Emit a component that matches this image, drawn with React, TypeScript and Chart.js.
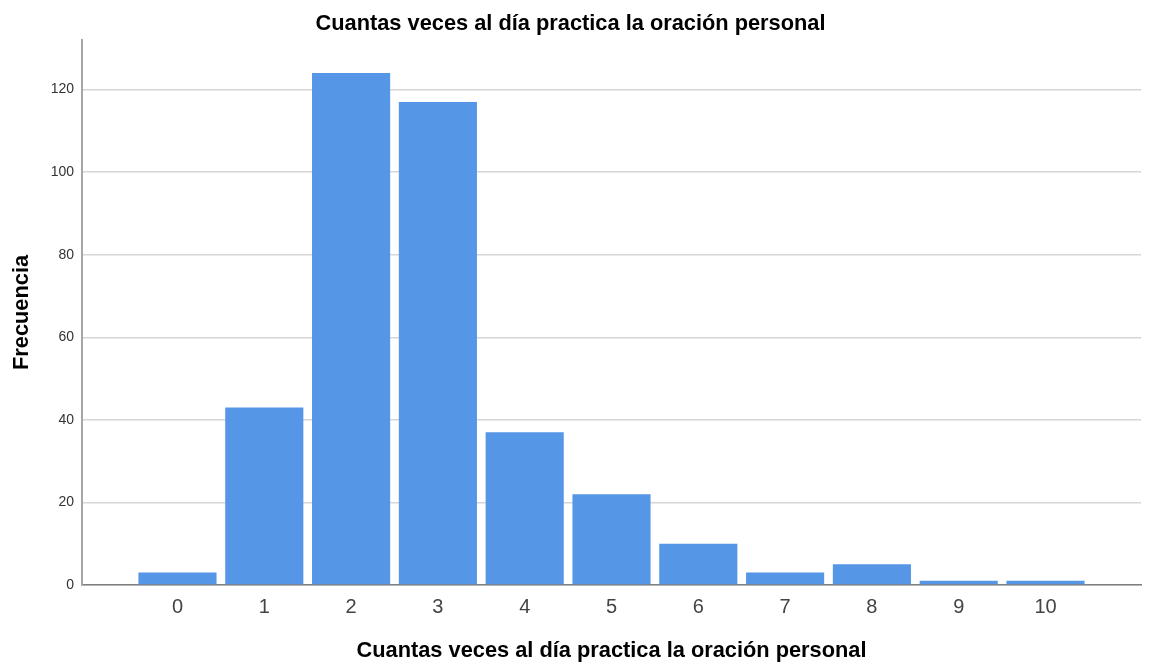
import React, { useEffect, useRef } from "react";
import { Chart, registerables } from "chart.js";

Chart.register(...registerables);

const chartTitle = "Cuantas veces al día practica la oración personal";
const xAxisTitle = "Cuantas veces al día practica la oración personal";
const yAxisTitle = "Frecuencia";
const categories = [0, 1, 2, 3, 4, 5, 6, 7, 8, 9, 10];
const frequencies = [3, 43, 124, 117, 37, 22, 10, 3, 5, 1, 1];
const yTickValues = [0, 20, 40, 60, 80, 100, 120];

const FONT = '"Liberation Sans", Arial, sans-serif';

export default function App() {
  const ref = useRef<HTMLCanvasElement | null>(null);

  useEffect(() => {
    if (!ref.current) return;
    const chart = new Chart(ref.current, {
      type: "bar",
      data: {
        datasets: [
          {
            label: yAxisTitle,
            data: categories.map((c, i) => ({ x: c, y: frequencies[i] })),
            backgroundColor: "#5596E6",
            borderWidth: 0,
            barPercentage: 0.9,
            categoryPercentage: 1,
          },
        ],
      },
      options: {
        responsive: false,
        animation: false,
        layout: { padding: { left: 0, right: 8, top: 0, bottom: 0 } },
        plugins: {
          legend: { display: false },
          tooltip: { enabled: false },
          title: {
            display: true,
            text: chartTitle,
            color: "#000",
            font: { family: FONT, size: 21.8, weight: "bold" },
            padding: { top: 10.5, bottom: 3.3 },
          },
        },
        scales: {
          x: {
            type: "linear",
            offset: false,
            min: -1.1,
            max: 11.1,
            afterBuildTicks: (scale: any) => {
              scale.ticks = categories.map((v) => ({ value: v }));
            },
            afterFit: (scale: any) => {
              scale.height = 81;
            },
            grid: { display: false, drawTicks: false, offset: false },
            border: { display: true, color: "#7f7f7f", width: 1.5 },
            ticks: {
              autoSkip: false,
              maxRotation: 0,
              padding: 10,
              color: "#444",
              font: { family: FONT, size: 20 },
              callback: (v: any) => String(v),
            },
            title: {
              display: true,
              text: xAxisTitle,
              color: "#000",
              font: { family: FONT, size: 21.8, weight: "bold" },
              padding: { top: 0, bottom: 2 },
            },
          },
          y: {
            type: "linear",
            min: 0,
            max: 132,
            afterBuildTicks: (scale: any) => {
              scale.ticks = yTickValues.map((v) => ({ value: v }));
            },
            afterFit: (scale: any) => {
              scale.width = 82;
            },
            grid: { color: "#d6d6d6", lineWidth: 1.5, drawTicks: false },
            border: { display: true, color: "#a6a6a6", width: 2 },
            ticks: {
              padding: 8,
              color: "#333",
              font: { family: FONT, size: 14 },
            },
            title: {
              display: true,
              text: yAxisTitle,
              color: "#000",
              font: { family: FONT, size: 21.8, weight: "bold" },
              padding: { top: 9, bottom: 0 },
            },
          },
        },
      },
    });
    return () => chart.destroy();
  }, []);

  return (
    <div style={{ position: "absolute", left: 0, top: 0, width: 1149, height: 666, background: "#fff" }}>
      <canvas ref={ref} width={1149} height={666} />
    </div>
  );
}
